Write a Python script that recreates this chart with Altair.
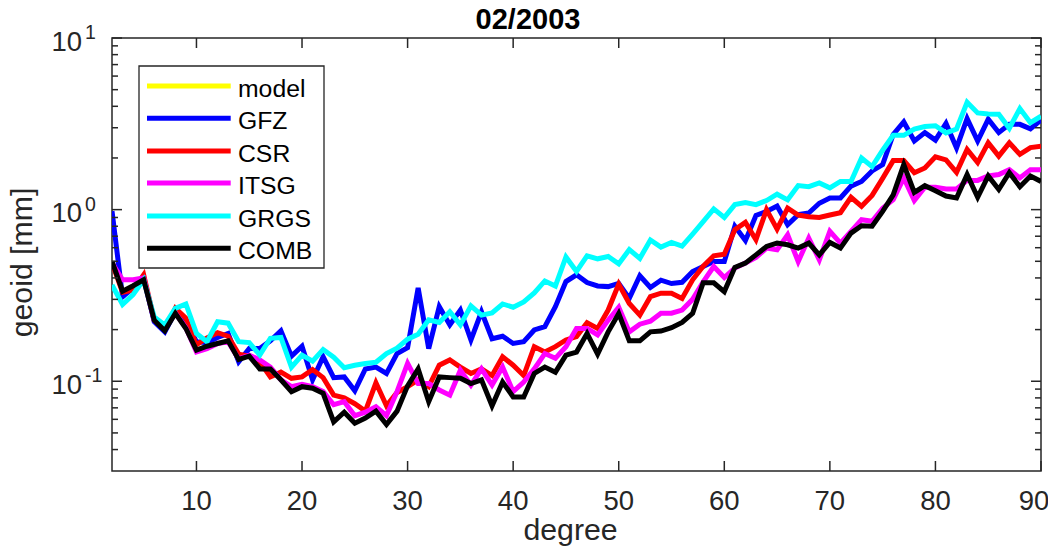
import altair as alt
import pandas as pd

# ---------------- data ----------------
degrees = list(range(2, 91))

gfz = [0.98, 0.31, 0.35, 0.40, 0.222, 0.194, 0.254, 0.222, 0.17, 0.168,
       0.18, 0.19, 0.13, 0.155, 0.155, 0.172, 0.197, 0.14, 0.16, 0.102,
       0.139, 0.105, 0.106, 0.088, 0.118, 0.121, 0.111, 0.145, 0.157, 0.35,
       0.155, 0.272, 0.213, 0.26, 0.174, 0.254, 0.177, 0.183, 0.166, 0.17,
       0.199, 0.208, 0.272, 0.381, 0.417, 0.376, 0.359, 0.356, 0.372, 0.304,
       0.412, 0.352, 0.388, 0.371, 0.377, 0.436, 0.466, 0.498, 0.498, 0.799,
       0.66, 0.925, 0.977, 1.05, 0.817, 0.935, 0.956, 1.09, 1.17, 1.17,
       1.37, 1.46, 1.68, 1.83, 2.74, 3.24, 2.51, 2.81, 2.54, 3.18,
       2.29, 3.39, 2.51, 3.36, 2.81, 3.14, 3.14, 2.96, 3.33]

csr = [0.49, 0.33, 0.34, 0.417, 0.227, 0.2, 0.267, 0.233, 0.163, 0.179,
       0.192, 0.183, 0.144, 0.14, 0.13, 0.106, 0.113, 0.104, 0.106, 0.117,
       0.105, 0.083, 0.08, 0.074, 0.067, 0.098, 0.072, 0.086, 0.093, 0.102,
       0.093, 0.124, 0.133, 0.121, 0.111, 0.118, 0.108, 0.139, 0.124, 0.108,
       0.159, 0.148, 0.159, 0.174, 0.182, 0.219, 0.203, 0.26, 0.368, 0.284,
       0.243, 0.311, 0.326, 0.326, 0.304, 0.39, 0.468, 0.538, 0.55, 0.764,
       0.843, 0.668, 1.0, 0.77, 1.02, 0.93, 0.91, 0.9, 0.93, 0.96,
       1.18, 1.045, 1.21, 1.52, 1.93, 1.93, 1.64, 1.75, 2.03, 1.95,
       1.65, 2.24, 1.88, 2.45, 2.05, 2.45, 2.1, 2.3, 2.34]

itsg = [0.49, 0.39, 0.39, 0.40, 0.227, 0.204, 0.25, 0.205, 0.148, 0.155,
        0.166, 0.17, 0.135, 0.142, 0.133, 0.121, 0.102, 0.093, 0.096, 0.093,
        0.087, 0.073, 0.076, 0.063, 0.066, 0.071, 0.063, 0.087, 0.127, 0.097,
        0.097, 0.089, 0.083, 0.116, 0.095, 0.118, 0.095, 0.121, 0.087, 0.099,
        0.118, 0.145, 0.136, 0.159, 0.203, 0.203, 0.186, 0.227, 0.27, 0.194,
        0.215, 0.224, 0.249, 0.249, 0.26, 0.3, 0.38, 0.466, 0.402, 0.457,
        0.489, 0.527, 0.597, 0.583, 0.714, 0.498, 0.683, 0.51, 0.747, 0.638,
        0.747, 0.874, 0.855, 1.02, 1.144, 1.53, 1.13, 1.35, 1.35, 1.32,
        1.32, 1.48, 1.48, 1.57, 1.6, 1.71, 1.53, 1.71, 1.71]

grgs = [0.364, 0.28, 0.32, 0.39, 0.237, 0.213, 0.266, 0.282, 0.19, 0.17,
        0.222, 0.218, 0.17, 0.168, 0.142, 0.178, 0.18, 0.121, 0.142, 0.131,
        0.153, 0.138, 0.12, 0.124, 0.127, 0.129, 0.145, 0.156, 0.176, 0.188,
        0.228, 0.22, 0.254, 0.213, 0.275, 0.243, 0.25, 0.282, 0.27, 0.29,
        0.327, 0.384, 0.359, 0.53, 0.436, 0.538, 0.517, 0.533, 0.483, 0.585,
        0.52, 0.665, 0.605, 0.644, 0.613, 0.72, 0.85, 1.01, 0.9, 1.07,
        1.1, 1.07, 1.13, 1.23, 1.14, 1.38, 1.36, 1.43, 1.34, 1.46,
        1.46, 2.0, 1.78, 2.22, 2.71, 2.71, 2.95, 3.05, 3.08, 2.8,
        2.95, 4.22, 3.66, 3.61, 3.6, 2.98, 3.88, 3.21, 3.5]

comb = [0.5, 0.335, 0.36, 0.39, 0.227, 0.197, 0.249, 0.203, 0.152, 0.16,
        0.166, 0.172, 0.134, 0.14, 0.118, 0.118, 0.102, 0.087, 0.093, 0.091,
        0.085, 0.058, 0.066, 0.057, 0.061, 0.067, 0.056, 0.067, 0.094, 0.118,
        0.076, 0.106, 0.105, 0.104, 0.097, 0.102, 0.072, 0.099, 0.081, 0.081,
        0.111, 0.121, 0.113, 0.142, 0.148, 0.19, 0.144, 0.194, 0.248, 0.172,
        0.172, 0.194, 0.196, 0.205, 0.22, 0.249, 0.375, 0.375, 0.333, 0.461,
        0.488, 0.545, 0.61, 0.638, 0.624, 0.597, 0.638, 0.545, 0.644, 0.597,
        0.73, 0.806, 0.8, 0.977, 1.22, 1.83, 1.26, 1.38, 1.29, 1.2,
        1.17, 1.6, 1.18, 1.57, 1.31, 1.64, 1.36, 1.57, 1.46]

# the "model" curve is not visible in the plotted range; it only appears in the legend
legend_names = ["model", "GFZ", "CSR", "ITSG", "GRGS", "COMB"]
legend_colors = ["#FFFF00", "#0000FF", "#FF0000", "#FF00FF", "#00FFFF", "#000000"]
plotted = [("GFZ", gfz), ("CSR", csr), ("ITSG", itsg), ("GRGS", grgs), ("COMB", comb)]
color_of = dict(zip(legend_names, legend_colors))

x_tick_values = [10, 20, 30, 40, 50, 60, 70, 80]
x_last_tick = [90]
y_major = [0.1, 1, 10]
y_major_exp = ["-1", "0", "1"]
y_minor = [0.04, 0.05, 0.06, 0.07, 0.08, 0.09,
           0.2, 0.3, 0.4, 0.5, 0.6, 0.7, 0.8, 0.9,
           2, 3, 4, 5, 6, 7, 8, 9]

title_text = "02/2003"
x_title = "degree"
y_title = "geoid [mm]"

# ---------------- layout / style ----------------
W, H = 929, 433
AX = "#262626"
FONT = "Liberation Sans"
xs = alt.Scale(domain=[2, 90], nice=False, zero=False)
ys = alt.Scale(type="log", domain=[0.03, 10], nice=False)
one = pd.DataFrame({"k": [0]})

layers = []

# data lines
for name, vals in plotted:
    df = pd.DataFrame({"degree": degrees, "value": vals})
    layers.append(
        alt.Chart(df).mark_line(strokeWidth=5, color=color_of[name], clip=True).encode(
            x=alt.X("degree:Q", scale=xs, axis=None),
            y=alt.Y("value:Q", scale=ys, axis=None),
        )
    )

# inward ticks (box style)
xt = pd.DataFrame({"degree": x_tick_values + x_last_tick})
for y0, y1 in [(H, H - 10), (0, 10)]:
    layers.append(alt.Chart(xt).mark_rule(color=AX, strokeWidth=1.5).encode(
        x=alt.X("degree:Q", scale=xs, axis=None), y=alt.value(y0), y2=alt.value(y1)))
ymaj = pd.DataFrame({"value": y_major, "exp": y_major_exp})
ymin = pd.DataFrame({"value": y_minor})
for dfv, ln in [(ymaj, 10), (ymin, 6)]:
    for x0, x1 in [(0, ln), (W, W - ln)]:
        layers.append(alt.Chart(dfv).mark_rule(color=AX, strokeWidth=1.5).encode(
            y=alt.Y("value:Q", scale=ys, axis=None), x=alt.value(x0), x2=alt.value(x1)))

# x tick labels (the last one nudged inwards so it stays inside the page)
for vals, shift in [(x_tick_values, 0), (x_last_tick, -7)]:
    layers.append(alt.Chart(pd.DataFrame({"degree": vals})).mark_text(
        font=FONT, fontSize=27.5, color=AX, align="center", baseline="alphabetic", dx=shift).encode(
        x=alt.X("degree:Q", scale=xs, axis=None), y=alt.value(H + 39), text="degree:Q"))

# y tick labels 10^n
layers.append(alt.Chart(ymaj).mark_text(font=FONT, fontSize=27.5, color=AX, align="right",
                                        baseline="alphabetic", dy=12.5, text="10").encode(
    y=alt.Y("value:Q", scale=ys, axis=None), x=alt.value(-30)))
layers.append(alt.Chart(ymaj).mark_text(font=FONT, fontSize=19.5, color=AX, align="left",
                                        baseline="alphabetic", dy=1).encode(
    y=alt.Y("value:Q", scale=ys, axis=None), x=alt.value(-27), text="exp:N"))

# titles
layers.append(alt.Chart(one).mark_text(font=FONT, fontSize=30.25, color=AX, align="center",
                                       baseline="alphabetic", text=x_title).encode(
    x=alt.value(W / 2 - 6), y=alt.value(H + 69)))
layers.append(alt.Chart(one).mark_text(font=FONT, fontSize=30.25, color=AX, align="center",
                                       baseline="alphabetic", angle=270, text=y_title).encode(
    x=alt.value(-80), y=alt.value(H / 2 + 8)))
layers.append(alt.Chart(one).mark_text(font=FONT, fontSize=29, fontWeight="bold", color="#000000",
                                       align="center", baseline="alphabetic", text=title_text).encode(
    x=alt.value(416), y=alt.value(-9)))

# legend (box, line samples, labels)
layers.append(alt.Chart(one).mark_rect(fill="white", stroke=AX, strokeWidth=1.3).encode(
    x=alt.value(27), x2=alt.value(212), y=alt.value(28), y2=alt.value(230)))
row_y = [48, 80.3, 113, 145, 178, 210.3]
for name, col, ry in zip(legend_names, legend_colors, row_y):
    layers.append(alt.Chart(one).mark_rule(color=col, strokeWidth=5).encode(
        x=alt.value(35), x2=alt.value(118.7), y=alt.value(ry)))
    layers.append(alt.Chart(one).mark_text(font=FONT, fontSize=24.75, color="#000000", align="left",
                                           baseline="alphabetic", text=name).encode(
        x=alt.value(126), y=alt.value(ry + 10.5)))

chart = alt.layer(*layers).properties(
    width=W, height=H,
    padding={"left": 104, "top": 30, "right": 7, "bottom": 77},
    autosize=alt.AutoSizeParams(type="none"),
).configure_view(stroke=AX, strokeWidth=1.5)

chart.save("out.html", embed_options={"renderer": "svg", "actions": False})
